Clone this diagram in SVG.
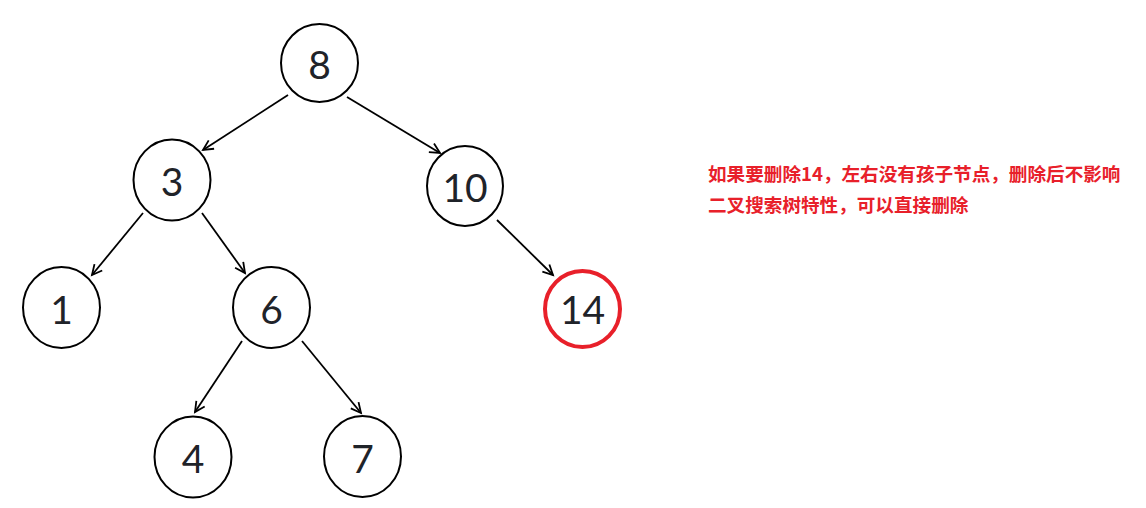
<svg xmlns="http://www.w3.org/2000/svg" width="1146" height="508" viewBox="0 0 1146 508">
<style>
.n{fill:#fff;stroke:#000;stroke-width:2}
.r{fill:#fff;stroke:#e8202a;stroke-width:4}
.t{font-family:Lato,"DejaVu Sans",sans-serif;font-size:39px;fill:#1f2329;text-anchor:middle}
.e{stroke:#000;stroke-width:1.8;fill:none;marker-end:url(#ah)}
.note{font-family:"Noto Sans CJK SC",sans-serif;font-size:18.6px;font-weight:bold;fill:#e8202a}
</style>
<defs>
<marker id="ah" markerUnits="userSpaceOnUse" markerWidth="14" markerHeight="14" refX="11" refY="6" orient="auto">
<path d="M1,1 L11,6 L1,11" fill="none" stroke="#000" stroke-width="1.8"/>
</marker>
</defs>
<rect width="1146" height="508" fill="#fff"/>
<g id="edges">
<line class="e" x1="288" y1="95" x2="203" y2="150"/>
<line class="e" x1="347" y1="97" x2="440" y2="153"/>
<line class="e" x1="143" y1="213" x2="92" y2="275"/>
<line class="e" x1="202" y1="213" x2="245" y2="273"/>
<line class="e" x1="497" y1="220" x2="553" y2="275"/>
<line class="e" x1="242" y1="341" x2="195" y2="412"/>
<line class="e" x1="302" y1="341" x2="361" y2="413"/>
</g>
<g id="n8"><ellipse class="n" cx="319.5" cy="63" rx="38.5" ry="39"/><text class="t" x="319.5" y="79">8</text></g>
<g id="n3"><ellipse class="n" cx="172" cy="180" rx="38.5" ry="40.5"/><text class="t" x="172" y="196">3</text></g>
<g id="n10"><ellipse class="n" cx="465" cy="186" rx="38" ry="40"/><text class="t" x="465" y="202">10</text></g>
<g id="n1"><ellipse class="n" cx="61.5" cy="307.5" rx="38.5" ry="40.5"/><text class="t" x="61.5" y="324">1</text></g>
<g id="n6"><ellipse class="n" cx="271.5" cy="307.5" rx="38.5" ry="40.5"/><text class="t" x="271.5" y="324">6</text></g>
<g id="n14"><ellipse class="r" cx="582.5" cy="309" rx="37.5" ry="38"/><text class="t" x="582.5" y="324">14</text></g>
<g id="n4"><ellipse class="n" cx="193" cy="457" rx="38.5" ry="40.5"/><text class="t" x="193" y="473">4</text></g>
<g id="n7"><ellipse class="n" cx="362.5" cy="456.5" rx="38.5" ry="40.5"/><text class="t" x="362.5" y="473">7</text></g>
<g id="note">
<text class="note" x="708" y="180.5">如果要删除14，左右没有孩子节点，删除后不影响</text>
<text class="note" x="708" y="211.5">二叉搜索树特性，可以直接删除</text>
</g>
</svg>
